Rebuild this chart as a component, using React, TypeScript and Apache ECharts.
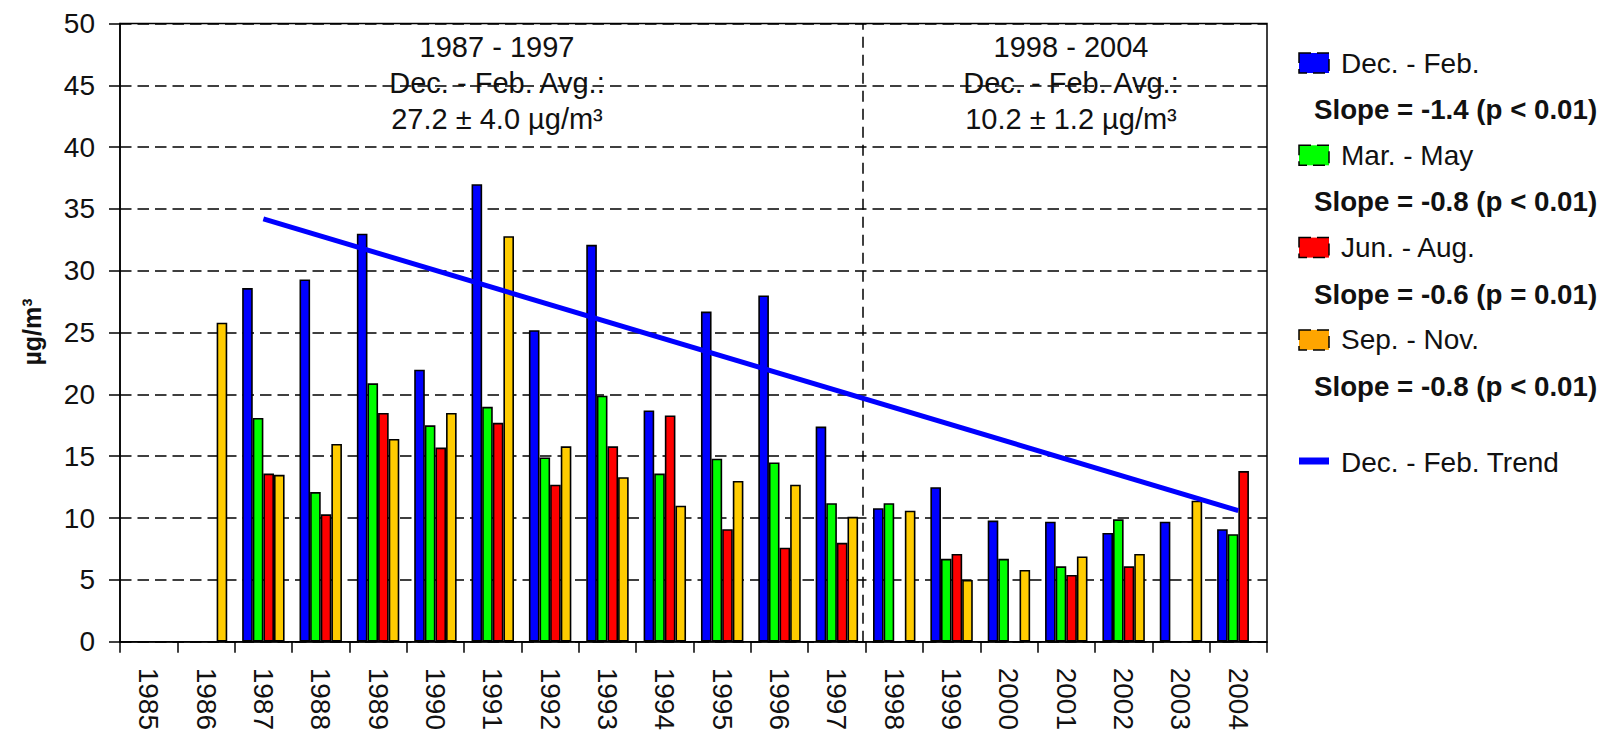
import React, { useEffect, useRef } from "react";
import * as echarts from "echarts";

const YEARS = ["1985","1986","1987","1988","1989","1990","1991","1992","1993","1994","1995","1996","1997","1998","1999","2000","2001","2002","2003","2004"];
const DEC_FEB = [null, null, 28.6, 29.3, 33.0, 22.0, 37.0, 25.2, 32.1, 18.7, 26.7, 28.0, 17.4, 10.8, 12.5, 9.8, 9.7, 8.8, 9.7, 9.1];
const MAR_MAY = [null, null, 18.1, 12.1, 20.9, 17.5, 19.0, 14.9, 19.9, 13.6, 14.8, 14.5, 11.2, 11.2, 6.7, 6.7, 6.1, 9.9, null, 8.7];
const JUN_AUG = [null, null, 13.6, 10.3, 18.5, 15.7, 17.7, 12.7, 15.8, 18.3, 9.1, 7.6, 8.0, null, 7.1, null, 5.4, 6.1, null, 13.8];
const SEP_NOV = [null, 25.8, 13.5, 16.0, 16.4, 18.5, 32.8, 15.8, 13.3, 11.0, 13.0, 12.7, 10.1, 10.6, 5.0, 5.8, 6.9, 7.1, 11.4, null];
const TREND = [null, null, 34.2, null, null, null, null, null, null, null, null, null, null, null, null, null, null, null, null, 10.6];

const SERIES_NAMES = ["Dec. - Feb.", "Mar. - May", "Jun. - Aug.", "Sep. - Nov."];
const SLOPES = ["Slope = -1.4 (p < 0.01)", "Slope = -0.8 (p < 0.01)", "Slope = -0.6 (p = 0.01)", "Slope = -0.8 (p < 0.01)"];
const TREND_NAME = "Dec. - Feb. Trend";
const PERIOD_SPLIT = 12.95; // boundary between 1997 and 1998 on a 0..20 category scale
const PERIOD1 = ["1987 - 1997", "Dec. - Feb. Avg.:", "27.2 \u00b1 4.0 \u00b5g/m\u00b3"];
const PERIOD2 = ["1998 - 2004", "Dec. - Feb. Avg.:", "10.2 \u00b1 1.2 \u00b5g/m\u00b3"];

const BAR_COLORS = ["#0000ff", "#00ff00", "#ff0000", "#ffcc00"];
const LEGEND_COLORS = ["#0000ff", "#00ff00", "#ff0000", "#ffa500"];
const FONT = "'Liberation Sans', Arial, sans-serif";
const TXT = "#111";

export default function App() {
  const ref = useRef<HTMLDivElement>(null);
  useEffect(() => {
    if (!ref.current) return;
    const chart = echarts.init(ref.current, null, { renderer: "svg" });
    const dataSets = [DEC_FEB, MAR_MAY, JUN_AUG, SEP_NOV];

    const graphics: any[] = [];
    const addBlock = (lines: string[], cx: number) => {
      lines.forEach((t, i) => {
        graphics.push({
          type: "text",
          z: 50,
          style: {
            text: t, x: cx, y: 47 + i * 36,
            font: `29px ${FONT}`, fill: TXT,
            textAlign: "center", textVerticalAlign: "middle",
            align: "center", verticalAlign: "middle",
          },
        });
      });
    };
    addBlock(PERIOD1, 497);
    addBlock(PERIOD2, 1071);

    SERIES_NAMES.forEach((name, i) => {
      const cy = 63 + i * 92.3;
      graphics.push({
        type: "rect",
        z: 50,
        shape: { x: 1299, y: cy - 10, width: 30, height: 20 },
        style: { fill: LEGEND_COLORS[i], stroke: "#000", lineWidth: 1.5, lineDash: [12, 6] },
      });
      graphics.push({
        type: "text",
        z: 50,
        style: {
          text: name, x: 1341, y: cy, font: `28px ${FONT}`, fill: TXT,
          textAlign: "left", textVerticalAlign: "middle", align: "left", verticalAlign: "middle",
        },
      });
      graphics.push({
        type: "text",
        z: 50,
        style: {
          text: SLOPES[i], x: 1314, y: cy + 46.5, font: `bold 27.7px ${FONT}`, fill: TXT,
          textAlign: "left", textVerticalAlign: "middle", align: "left", verticalAlign: "middle",
        },
      });
    });
    graphics.push({
      type: "rect",
      z: 50,
      shape: { x: 1299, y: 457.5, width: 30, height: 7 },
      style: { fill: "#0000ff" },
    });
    graphics.push({
      type: "text",
      z: 50,
      style: {
        text: TREND_NAME, x: 1341, y: 462, font: `28px ${FONT}`, fill: TXT,
        textAlign: "left", textVerticalAlign: "middle", align: "left", verticalAlign: "middle",
      },
    });
    graphics.push({
      type: "text",
      z: 50,
      x: 32, y: 332, rotation: Math.PI / 2,
      style: {
        text: "\u00b5g/m\u00b3", x: 0, y: 0, font: `bold 25px ${FONT}`, fill: TXT,
        textAlign: "center", textVerticalAlign: "middle", align: "center", verticalAlign: "middle",
      },
    });

    const option: any = {
      animation: false,
      backgroundColor: "#fff",
      grid: {
        left: 120, top: 23.5, right: 344, bottom: 88.3,
        show: true, borderColor: "#000", borderWidth: 1.5,
        containLabel: false, outerBoundsMode: "none",
      },
      xAxis: [
        {
          type: "category",
          data: YEARS,
          axisLine: { lineStyle: { color: "#000", width: 1.5 } },
          axisTick: { show: true, inside: false, length: 11, lineStyle: { color: "#000", width: 1.5 } },
          axisLabel: { rotate: -90, margin: 26, fontSize: 28, fontFamily: FONT, color: TXT, interval: 0 },
          splitLine: { show: false },
        },
        {
          type: "value", min: 0, max: 20, show: false,
          splitLine: { show: false },
        },
      ],
      yAxis: {
        type: "value", min: 0, max: 50, interval: 5,
        axisLine: { show: true, lineStyle: { color: "#000", width: 1.5 } },
        axisTick: { show: true, inside: false, length: 11, lineStyle: { color: "#000", width: 1.5 } },
        axisLabel: { margin: 25, fontSize: 28, fontFamily: FONT, color: TXT },
        splitLine: { show: true, lineStyle: { color: "#000", width: 1.6, type: [11.5, 6] } },
      },
      series: [
        ...dataSets.map((d, i) => ({
          type: "bar",
          name: SERIES_NAMES[i],
          data: d,
          barGap: "0%",
          barCategoryGap: "26%",
          itemStyle: { color: BAR_COLORS[i], borderColor: "#000", borderWidth: 1.6 },
          z: 3,
        })),
        {
          type: "line",
          name: TREND_NAME,
          data: TREND,
          connectNulls: true,
          symbol: "none",
          lineStyle: { color: "#0000ff", width: 5 },
          z: 10,
        },
        {
          type: "line",
          xAxisIndex: 1,
          data: [],
          symbol: "none",
          silent: true,
          markLine: {
            silent: true,
            symbol: "none",
            label: { show: false },
            lineStyle: { color: "#000", width: 1.5, type: [11, 7] },
            data: [{ xAxis: PERIOD_SPLIT }],
          },
          z: 2,
        },
      ],
      graphic: graphics,
    };
    chart.setOption(option);
    return () => chart.dispose();
  }, []);
  return (
    <div
      ref={ref}
      style={{ position: "absolute", left: 0, top: 0, width: 1611, height: 730, background: "#fff" }}
    />
  );
}
